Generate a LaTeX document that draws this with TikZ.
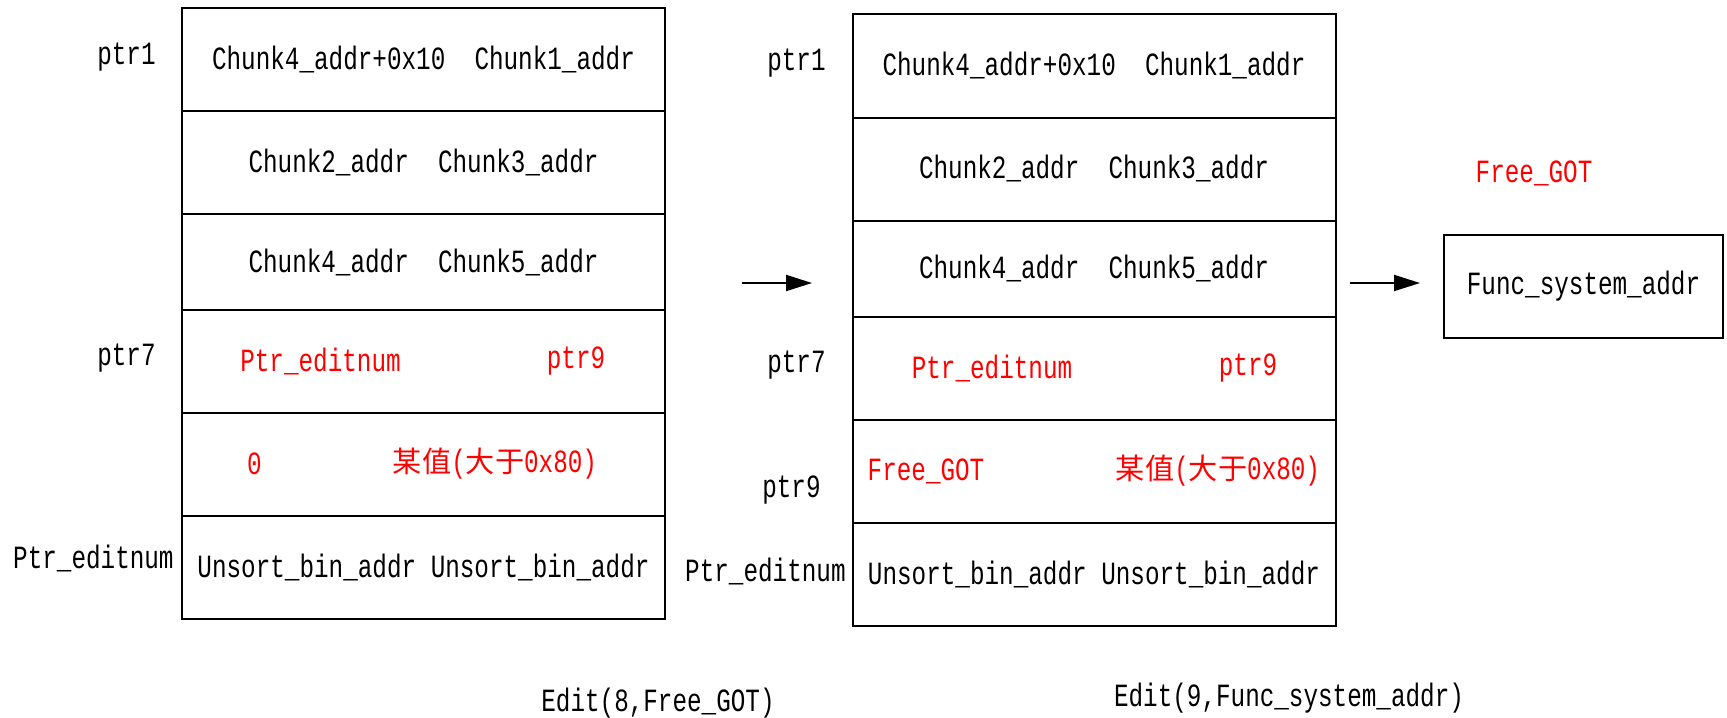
\documentclass[tikz,border=0pt]{standalone}
\usepackage{fontspec}
\setmainfont[FakeStretch=0.75]{Liberation Mono}
\newfontfamily\cjk[Scale=0.9]{Noto Sans CJK SC}
\usetikzlibrary{arrows.meta}
\newcommand{\someval}{{\cjk 某值}({\cjk 大于}0x80)}
\begin{document}
\begin{tikzpicture}[x=0.5pt,y=-0.5pt,font=\fontsize{16.2}{18}\selectfont,
    cell/.style={draw,line width=1pt,minimum width=241.5pt,minimum
        height=#1,inner sep=0pt},cell/.default=51.5pt,
    lbl/.style={inner sep=0pt},val/.style={inner sep=0pt,text=red},
    arr/.style={line width=1pt,-{Triangle[length=13pt,width=8pt]}}]

    \useasboundingbox (0,0) rectangle (1727,717);

    % the left table

    \node[cell] (L1) at (423.5,59.5) {Chunk4\_addr+0x10\ \ Chunk1\_addr};
    \node[cell] (L2) at (423.5,162.5) {Chunk2\_addr\ \ Chunk3\_addr};
    \node[cell=48pt] (L3) at (423.5,262) {Chunk4\_addr\ \ Chunk5\_addr};
    \node[cell] (L4) at (423.5,361.5) {};
    \node[cell] (L5) at (423.5,464.5) {};
    \node[cell] (L6) at (423.5,567.5) {Unsort\_bin\_addr Unsort\_bin\_addr};

    \node[val] (L4a) at (320.5,361) {Ptr\_editnum};
    \node[val] (L4b) at (576,361) {ptr9};
    \node[val] (L5a) at (254.5,464) {0};
    \node[val] (L5b) at (495,464) {\someval};

    \node[lbl,anchor=east] (pL1) at (156,57) {ptr1};
    \node[lbl,anchor=east] (pL7) at (156,358) {ptr7};
    \node[lbl,anchor=east] (peL) at (174,558) {Ptr\_editnum};

    % the middle table

    \node[cell] (M1) at (1094,66) {Chunk4\_addr+0x10\ \ Chunk1\_addr};
    \node[cell] (M2) at (1094,169) {Chunk2\_addr\ \ Chunk3\_addr};
    \node[cell=48pt] (M3) at (1094,268.5) {Chunk4\_addr\ \ Chunk5\_addr};
    \node[cell] (M4) at (1094,368) {};
    \node[cell] (M5) at (1094,471) {};
    \node[cell] (M6) at (1094,574) {Unsort\_bin\_addr Unsort\_bin\_addr};

    \node[val] (M4a) at (992,368) {Ptr\_editnum};
    \node[val] (M4b) at (1248,368) {ptr9};
    \node[val] (M5a) at (926,471) {Free\_GOT};
    \node[val] (M5b) at (1218,471) {\someval};

    \node[lbl,anchor=east] (pM1) at (826,63) {ptr1};
    \node[lbl,anchor=east] (pM7) at (826,365) {ptr7};
    \node[lbl,anchor=east] (pM9) at (821,490) {ptr9};
    \node[lbl,anchor=east] (peM) at (846,571) {Ptr\_editnum};

    % the GOT entry

    \node[cell,minimum width=139.5pt] (fsys) at (1583.5,286) {Func\_system\_addr};
    \node[val] (fgot) at (1534,173) {Free\_GOT};

    \node[lbl] (ed8) at (658,703) {Edit(8,Free\_GOT)};
    \node[lbl] (ed9) at (1289,698) {Edit(9,Func\_system\_addr)};

    % the arrows

    \coordinate (a1) at (742,283);
    \coordinate (a2) at (812,283);
    \coordinate (b1) at (1350,283);
    \coordinate (b2) at (1420,283);
    \draw[arr] (a1) to (a2);
    \draw[arr] (b1) to (b2);
  \end{tikzpicture}
\end{document}
